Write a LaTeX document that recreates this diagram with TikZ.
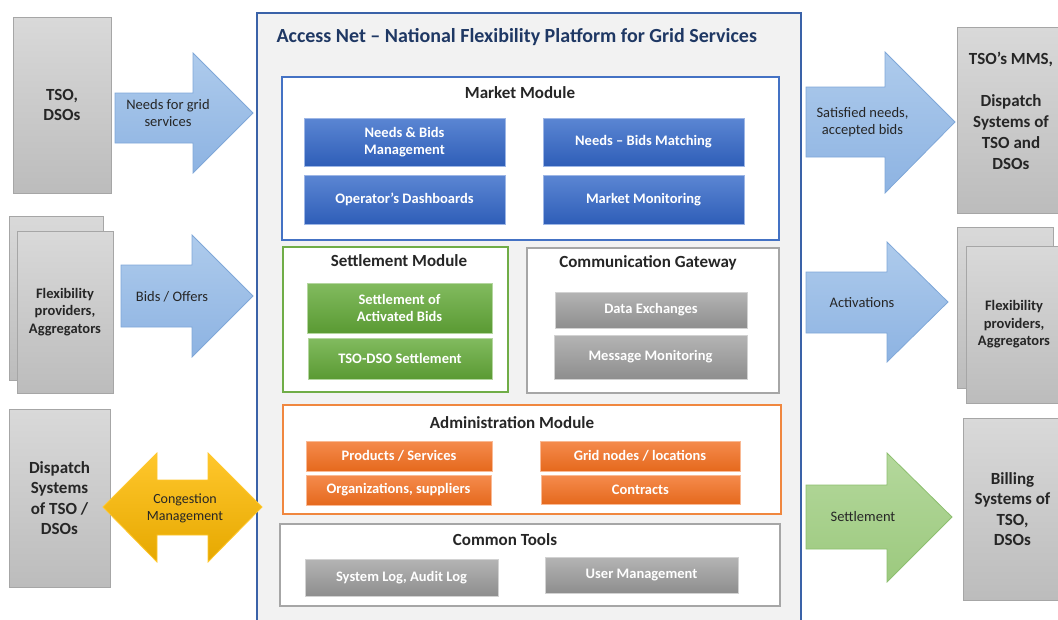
\documentclass[tikz,border=0pt]{standalone}
\usepackage{fontspec}
\setmainfont{Carlito}
\usepackage{tikz}
\usetikzlibrary{positioning}
\usepackage{xcolor}
\definecolor{frameblue}{HTML}{3A62A8}
\definecolor{titleblue}{HTML}{1F3864}
\definecolor{framefill}{HTML}{F2F2F2}
\definecolor{txtdark}{HTML}{262626}
\definecolor{sideT}{HTML}{D9D9D9}
\definecolor{sideB}{HTML}{BCBCBC}
\definecolor{sideedge}{HTML}{A6A6A6}
\definecolor{arrT}{HTML}{AECBEC}
\definecolor{arrB}{HTML}{8DB3E2}
\definecolor{arredge}{HTML}{7FA7D8}
\definecolor{mktblue}{HTML}{4472C4}
\definecolor{mktT}{HTML}{5B86D3}
\definecolor{mktB}{HTML}{2F5EB8}
\definecolor{setgreen}{HTML}{70AD47}
\definecolor{setT}{HTML}{82BB5F}
\definecolor{setB}{HTML}{5A9A33}
\definecolor{admorange}{HTML}{F0873F}
\definecolor{admT}{HTML}{F58B4D}
\definecolor{admB}{HTML}{E5691D}
\definecolor{toolgray}{HTML}{A6A6A6}
\definecolor{toolT}{HTML}{B4B4B4}
\definecolor{toolB}{HTML}{8E8E8E}
\definecolor{congT}{HTML}{FFC72C}
\definecolor{congB}{HTML}{E6A800}
\definecolor{billT}{HTML}{B4D89C}
\definecolor{billB}{HTML}{9CC97E}
\definecolor{billedge}{HTML}{8DBF6F}

\begin{document}
\begin{tikzpicture}[x=1pt, y=-1pt,
    sidebox/.style={draw=sideedge, line width=0.6pt, top color=sideT, bottom color=sideB, inner sep=0pt, align=center, text=txtdark, font=\bfseries\fontsize{17}{20.5}\selectfont},
    flexbox/.style={sidebox, font=\bfseries\fontsize{14.5}{17.5}\selectfont},
    bluearrow/.style={draw=arredge, line width=0.8pt, top color=arrT, bottom color=arrB},
    arrowlabel/.style={align=center, text=txtdark, font=\fontsize{14.5}{17.5}\selectfont},
    module/.style={draw=#1, line width=1.2pt, fill=white, inner sep=0pt},
    modtitle/.style={text=txtdark, font=\bfseries\fontsize{17}{20}\selectfont},
    item/.style={line width=0.6pt, inner sep=0pt, align=center, text=white, font=\bfseries\fontsize{14.5}{17.5}\selectfont},
    mktitem/.style={item, draw=mktT!60!white, top color=mktT, bottom color=mktB},
    setitem/.style={item, draw=setT!60!white, top color=setT, bottom color=setB},
    toolitem/.style={item, draw=toolT!60!white, top color=toolT, bottom color=toolB},
    admitem/.style={item, draw=admT!60!white, top color=admT, bottom color=admB}]
  \useasboundingbox (0,0) rectangle (1058,619);

  % Left side: actors feeding the platform
  \node[sidebox, minimum width=98pt, minimum height=176pt] (tso) at (62,105) {TSO,\\DSOs};
  \node[flexbox, minimum width=94pt, minimum height=164pt] (flexLback) at (56,298) {};
  \node[flexbox, minimum width=96pt, minimum height=162pt] (flexL) at (65,312) {Flexibility\\providers,\\Aggregators};
  \node[sidebox, minimum width=101pt, minimum height=178pt] (dispL) at (59.5,498) {Dispatch\\Systems\\of TSO /\\DSOs};

  \draw[bluearrow] (115,93) -- (193,93) -- (193,53) -- (253,113) -- (193,173) -- (193,143) -- (115,143) -- cycle;
  \node[arrowlabel] (needslbl) at (168,113) {Needs for grid\\services};
  \draw[bluearrow] (121,265) -- (192,265) -- (192,235) -- (253,296) -- (192,357) -- (192,327) -- (121,327) -- cycle;
  \node[arrowlabel] (bidslbl) at (172,297) {Bids / Offers};

  % Platform frame
  \node[draw=frameblue, line width=1.5pt, fill=framefill, minimum width=544pt, minimum height=612pt, inner sep=0pt] (platform) at (529,319) {};
  \node[anchor=west, text=titleblue, font=\bfseries\fontsize{20}{24}\selectfont] (ptitle) at (273,37) {Access Net -- National Flexibility Platform for Grid Services};

  % Market module
  \node[module=mktblue, minimum width=497pt, minimum height=163pt] (market) at (530.5,158.5) {};
  \node[modtitle] (markettitle) at (520,93) {Market Module};
  \node[mktitem, minimum width=201pt, minimum height=48pt] (nbmgmt) at (404.5,142) {Needs \& Bids\\Management};
  \node[mktitem, minimum width=201pt, minimum height=48pt] (nbmatch) at (643.5,142) {Needs -- Bids Matching};
  \node[mktitem, minimum width=201pt, minimum height=49pt] (dashb) at (404.5,199.5) {Operator’s Dashboards};
  \node[mktitem, minimum width=201pt, minimum height=49pt] (mktmon) at (643.5,199.5) {Market Monitoring};

  % Settlement module
  \node[module=setgreen, minimum width=225pt, minimum height=145pt] (settle) at (395.5,319.5) {};
  \node[modtitle] (settletitle) at (399,261) {Settlement Module};
  \node[setitem, minimum width=185pt, minimum height=50pt] (actbids) at (399.5,308) {Settlement of\\Activated Bids};
  \node[setitem, minimum width=184pt, minimum height=41pt] (tsodso) at (400,358.5) {TSO-DSO Settlement};

  % Communication gateway
  \node[module=toolgray, minimum width=252pt, minimum height=145pt] (gateway) at (653,320.5) {};
  \node[modtitle] (gatewaytitle) at (648,263) {Communication Gateway};
  \node[toolitem, minimum width=192pt, minimum height=36pt] (dataex) at (651,310) {Data Exchanges};
  \node[toolitem, minimum width=193pt, minimum height=44pt] (msgmon) at (650.5,357) {Message Monitoring};

  % Administration module
  \node[module=admorange, minimum width=498pt, minimum height=109pt] (admin) at (532,459.5) {};
  \node[modtitle] (admintitle) at (512,423) {Administration Module};
  \node[admitem, minimum width=186pt, minimum height=30pt] (prods) at (399,456) {Products / Services};
  \node[admitem, minimum width=185pt, minimum height=30pt] (orgs) at (398.5,490) {Organizations, suppliers};
  \node[admitem, minimum width=200pt, minimum height=30pt] (gridn) at (640,456) {Grid nodes / locations};
  \node[admitem, minimum width=199pt, minimum height=29pt] (contr) at (640.5,489.5) {Contracts};

  % Common tools
  \node[module=toolgray, minimum width=500pt, minimum height=82pt] (tools) at (530,565) {};
  \node[modtitle] (toolstitle) at (505,540) {Common Tools};
  \node[toolitem, minimum width=193pt, minimum height=37pt] (syslog) at (401.5,577.5) {System Log, Audit Log};
  \node[toolitem, minimum width=193pt, minimum height=36pt] (usermgmt) at (641.5,575) {User Management};

  % Congestion management (two-way)
  \draw[draw=congT, line width=0.8pt, top color=congT, bottom color=congB] (103,507) -- (157,453) -- (157,480) -- (208,480) -- (208,453) -- (262,507) -- (208,562) -- (208,535) -- (157,535) -- (157,562) -- cycle;
  \node[arrowlabel, font=\fontsize{14}{17}\selectfont] (conglbl) at (185,508) {Congestion\\Management};

  % Right side: outputs of the platform
  \draw[bluearrow] (806,87) -- (885,87) -- (885,52) -- (955,122) -- (885,193) -- (885,157) -- (806,157) -- cycle;
  \node[arrowlabel] (satlbl) at (862.5,122) {Satisfied needs,\\accepted bids};
  \node[sidebox, minimum width=103pt, minimum height=186pt] (tsomms) at (1008.5,120) {};
  \node[align=center, text=txtdark, font=\bfseries\fontsize{17}{21}\selectfont] (tsommstxt) at (1011,111) {TSO’s MMS,\\[21pt]Dispatch\\Systems of\\TSO and\\DSOs};

  \draw[bluearrow] (806,272) -- (887,272) -- (887,242) -- (948,302) -- (887,362) -- (887,333) -- (806,333) -- cycle;
  \node[arrowlabel] (actlbl) at (862,303) {Activations};
  \node[flexbox, minimum width=96pt, minimum height=161pt] (flexRback) at (1005,307.5) {};
  \node[flexbox, minimum width=96pt, minimum height=157pt] (flexR) at (1014,324.5) {Flexibility\\providers,\\Aggregators};

  \draw[draw=billedge, line width=0.8pt, top color=billT, bottom color=billB] (806,485) -- (887,485) -- (887,453) -- (952,517) -- (887,582) -- (887,549) -- (806,549) -- cycle;
  \node[arrowlabel] (setlbl) at (863,517) {Settlement};
  \node[sidebox, minimum width=99pt, minimum height=182pt] (billing) at (1012.5,509) {Billing\\Systems of\\TSO,\\DSOs};
\end{tikzpicture}
\end{document}
